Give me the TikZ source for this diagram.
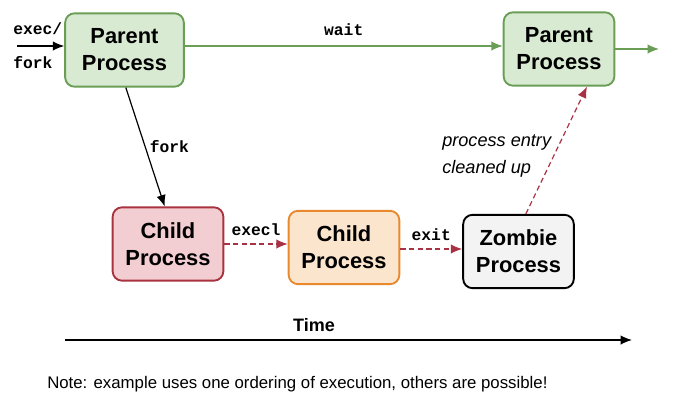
\documentclass[tikz,border=0pt]{standalone}
\usepackage{fontspec}
\setmainfont{Liberation Sans}
\setmonofont{Liberation Mono}
\usepackage{xcolor}
\usetikzlibrary{arrows.meta, positioning, calc}

\definecolor{parentfill}{HTML}{D9EAD3}
\definecolor{parentdraw}{HTML}{6A9E55}
\definecolor{childfill}{HTML}{F2CDD1}
\definecolor{childdraw}{HTML}{A8323F}
\definecolor{execfill}{HTML}{FCE5CD}
\definecolor{execdraw}{HTML}{E8892E}
\definecolor{zombiefill}{HTML}{F3F3F3}
\definecolor{dashred}{HTML}{A83244}

\begin{document}
\begin{tikzpicture}[x=0.75pt, y=-0.75pt]
    \tikzstyle{proc} = [rectangle, rounded corners=7pt, line width=1.4pt, align=center, font=\fontsize{16.4}{20.25}\selectfont\bfseries, minimum width=83pt, minimum height=55pt, inner sep=0pt]
    \tikzstyle{parent} = [proc, draw=parentdraw, fill=parentfill]
    \tikzstyle{child} = [proc, draw=childdraw, fill=childfill]
    \tikzstyle{execd} = [proc, draw=execdraw, fill=execfill]
    \tikzstyle{zombie} = [proc, draw=black, fill=zombiefill]
    \tikzstyle{code} = [font=\fontsize{12.2}{15}\selectfont\ttfamily\bfseries, inner sep=0pt]
    \tikzstyle{arrow} = [line width=0.9pt, -{Latex[length=8.5pt, width=7pt]}]
    \tikzstyle{greenarrow} = [arrow, draw=parentdraw, -{Latex[length=8.5pt, width=7pt, color=parentdraw]}]
    \tikzstyle{dasharrow} = [arrow, draw=dashred, dash pattern=on 4pt off 2.5pt, -{Latex[length=8.5pt, width=7pt, color=dashred]}]

    \useasboundingbox (0,0) rectangle (697,401);

    % processes
    \node[parent, minimum width=89pt] (parent1) at (124.5,50) {Parent\\Process};
    \node[parent] (parent2) at (559,49) {Parent\\Process};
    \node[child] (child1) at (168,244) {Child\\Process};
    \node[execd] (child2) at (344,247.5) {Child\\Process};
    \node[zombie] (zombie) at (518.5,251.5) {Zombie\\Process};

    % free ends
    \coordinate (start) at (17,46);
    \coordinate (onward) at (659,49);
    \coordinate (t0) at (65,340);
    \coordinate (t1) at (632,340);

    % connectors
    \draw[arrow] (start) -- (start -| parent1.west);
    \node[code, anchor=base west] (execlbl) at (13,34) {exec/};
    \node[code, anchor=base west] (forklbl) at (13,68) {fork};
    \draw[greenarrow] ([yshift=3pt]parent1.east) -- node[code, above=7pt] (waitlbl) {wait} ([yshift=3pt]parent1.east -| parent2.west);
    \draw[greenarrow] (parent2.east) -- (onward);
    \draw[arrow] ([xshift=1pt]parent1.south) -- node[code, right=3pt] (fork2lbl) {fork} ([xshift=-2.5pt]child1.north);
    \draw[dasharrow] (child1.east |- 0,244) -- node[code, above=6pt] (execllbl) {execl} (child2.west |- 0,244);
    \draw[dasharrow] (child2.east |- 0,249) -- node[code, above=6pt] (exitlbl) {exit} (zombie.west |- 0,249);
    \draw[dasharrow] ([xshift=5.5pt]zombie.north) -- ([xshift=21pt]parent2.south);
    \node[font=\fontsize{13.6}{20.25}\selectfont\itshape, align=left, anchor=north west, inner sep=0pt] (cleanlbl) at (442,134.5) {process entry\\cleaned up};

    % time axis
    \draw[arrow] (t0) -- (t1);
    \node[font=\fontsize{13.5}{16}\selectfont\bfseries, anchor=base] (timelbl) at (314,331) {Time};
    \node[font=\fontsize{12.6}{15}\selectfont, anchor=base west, inner sep=0pt] (note) at (47,388) {Note: example uses one ordering of execution, others are possible!};
\end{tikzpicture}
\end{document}
